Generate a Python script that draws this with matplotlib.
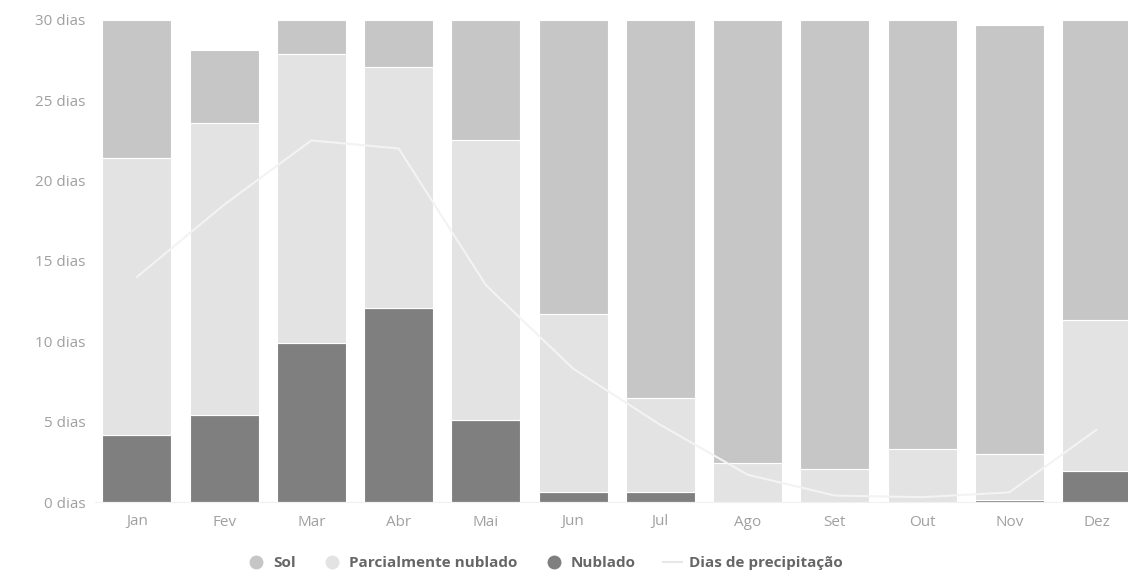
import numpy as np
import matplotlib
matplotlib.use("Agg")
import matplotlib.pyplot as plt
from matplotlib.lines import Line2D

plt.rcParams.update({"font.family": ["Open Sans", "DejaVu Sans"]})

# dados (dias por mês)
meses = ["Jan", "Fev", "Mar", "Abr", "Mai", "Jun", "Jul", "Ago", "Set", "Out", "Nov", "Dez"]
nublado = [4.2, 5.4, 9.9, 12.1, 5.1, 0.6, 0.6, 0.0, 0.0, 0.0, 0.1, 1.9]
parcial = [17.2, 18.2, 18.0, 15.0, 17.4, 11.1, 5.9, 2.4, 2.05, 3.3, 2.9, 9.4]
sol = [8.6, 4.5, 2.1, 2.9, 7.5, 18.3, 23.5, 27.6, 27.95, 26.7, 26.7, 18.7]
precipitacao = [14, 18.5, 22.5, 22, 13.5, 8.3, 4.8, 1.7, 0.4, 0.3, 0.6, 4.5]
yticks = [0, 5, 10, 15, 20, 25, 30]

C_SOL, C_PARC, C_NUB, C_PREC = "#c6c6c6", "#e3e3e3", "#7f7f7f", "#f3f3f3"
TXT = "#a0a0a0"

fig = plt.figure(figsize=(11.28, 5.88), dpi=100)
ax = fig.add_axes([95 / 1128, 86 / 588, (1128 - 95) / 1128, (502 - 16.7) / 588])

x = np.arange(len(meses))
w = 0.79
nub = np.array(nublado)
par = np.array(parcial)
ax.bar(x, nub, w, color=C_NUB, edgecolor="white", linewidth=0.8, zorder=2)
ax.bar(x, par, w, bottom=nub, color=C_PARC, edgecolor="white", linewidth=0.8, zorder=2)
ax.bar(x, sol, w, bottom=nub + par, color=C_SOL, edgecolor="white", linewidth=0.8, zorder=2)
ax.plot(x, precipitacao, color=C_PREC, linewidth=1.5, zorder=3)

ax.set_xlim(-0.48, 11.36)
ax.set_ylim(0, 30.2)
ax.set_xticks(x)
ax.set_xticklabels(meses)
ax.set_yticks(yticks)
ax.set_yticklabels([f"{v} dias" for v in yticks])
ax.tick_params(axis="both", length=0, colors=TXT, labelsize=11)
ax.tick_params(axis="x", pad=9)
ax.tick_params(axis="y", pad=7)
for s in ["top", "right", "left"]:
    ax.spines[s].set_visible(False)
ax.spines["bottom"].set_color("#f0f0f0")

handles = [
    Line2D([], [], marker="o", linestyle="", markersize=9, color=C_SOL),
    Line2D([], [], marker="o", linestyle="", markersize=9, color=C_PARC),
    Line2D([], [], marker="o", linestyle="", markersize=9, color=C_NUB),
    Line2D([], [], color="#e8e8e8", linewidth=1.5),
]
labels = ["Sol", "Parcialmente nublado", "Nublado", "Dias de precipitação"]
leg = fig.legend(handles, labels, loc="center", bbox_to_anchor=(545 / 1128, 1 - 563 / 588),
                 ncol=4, frameon=False, handlelength=1.2, handletextpad=0.5, columnspacing=1.8,
                 prop={"size": 11, "weight": "bold"})
for t in leg.get_texts():
    t.set_color("#666666")

fig.savefig("out.png", dpi=100, facecolor="white")
